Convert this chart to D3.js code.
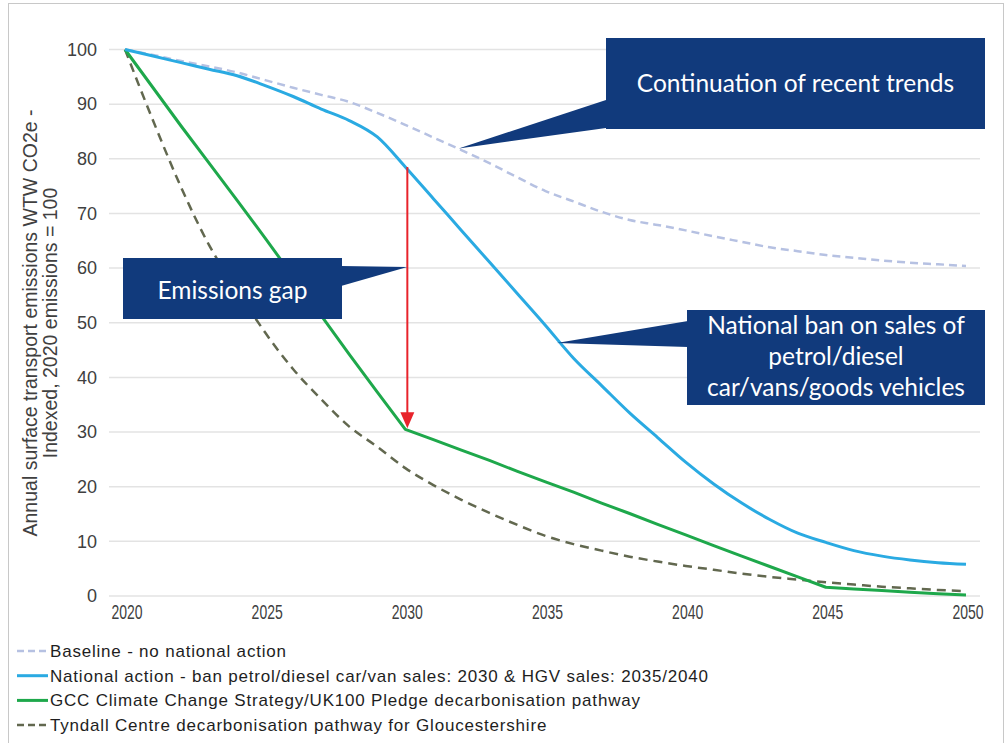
<!DOCTYPE html>
<html>
<head>
    <title>Surface transport emissions pathways</title>
    <script src="https://d3js.org/d3.v7.min.js"></script>
    <style>
        body { margin: 0; background: #fff; }
        .tick-y { font-family: Arial, "Liberation Sans", sans-serif; font-size: 18px; fill: #404040; }
        .tick-x { font-family: Arial, "Liberation Sans", sans-serif; font-size: 20px; fill: #404040; }
        .axis-title { font-family: Arial, "Liberation Sans", sans-serif; font-size: 19.5px; fill: #404040; }
        .legend-text { font-family: Arial, "Liberation Sans", sans-serif; font-size: 17px; fill: #1e1e1e; letter-spacing: 0.8px; }
        .callout-text { font-family: Lato, "Open Sans", sans-serif; font-size: 24.5px; fill: #fff; }
    </style>
</head>
<body>
<script>
    const years = [2020, 2021, 2022, 2023, 2024, 2025, 2026, 2027, 2028, 2029, 2030,
                   2031, 2032, 2033, 2034, 2035, 2036, 2037, 2038, 2039, 2040,
                   2041, 2042, 2043, 2044, 2045, 2046, 2047, 2048, 2049, 2050];

    // Baseline - no national action
    const baseline = [100, 99.0, 97.9, 96.9, 95.8, 94.4, 93.0, 91.7, 90.4, 88.4, 86.2,
                      83.9, 81.6, 79.2, 76.6, 74.1, 72.2, 70.3, 68.8, 67.9, 66.9,
                      65.8, 64.8, 63.8, 63.1, 62.4, 61.9, 61.4, 61.0, 60.7, 60.4];
    // National action - ban petrol/diesel sales
    const national = [100, 98.8, 97.6, 96.4, 95.2, 93.4, 91.4, 89.1, 87.0, 84.0, 78.5,
                      72.7, 66.9, 61.1, 55.3, 49.5, 43.5, 38.5, 33.5, 29.0, 24.5,
                      20.5, 17.0, 14.0, 11.5, 9.8, 8.3, 7.3, 6.6, 6.1, 5.8];
    // GCC Climate Change Strategy / UK100 pledge
    const gcc = [100, 93.0, 86.0, 79.2, 72.4, 65.5, 58.4, 51.3, 44.2, 37.3, 30.5,
                 28.6, 26.7, 24.8, 22.8, 20.9, 19.0, 17.0, 15.1, 13.1, 11.2,
                 9.2, 7.3, 5.4, 3.5, 1.6, 1.3, 1.0, 0.7, 0.4, 0.2];
    // Tyndall Centre pathway
    const tyndall = [100, 87.0, 74.8, 64.2, 56.0, 48.2, 41.5, 36.0, 31.0, 27.3, 23.4,
                     20.3, 17.6, 15.2, 13.0, 11.0, 9.5, 8.3, 7.2, 6.3, 5.5,
                     4.8, 4.1, 3.5, 3.0, 2.5, 2.1, 1.7, 1.4, 1.1, 0.9];

    const yTicks = [0, 10, 20, 30, 40, 50, 60, 70, 80, 90, 100];
    const xTicks = [2020, 2025, 2030, 2035, 2040, 2045, 2050];

    const legendLabels = [
        "Baseline - no national action",
        "National action - ban petrol/diesel car/van sales: 2030 & HGV sales: 2035/2040",
        "GCC Climate Change Strategy/UK100 Pledge decarbonisation pathway",
        "Tyndall Centre decarbonisation pathway for Gloucestershire"
    ];

    const calloutText = {
        trends: ["Continuation of recent trends"],
        gap: ["Emissions gap"],
        ban: ["National ban on sales of", "petrol/diesel", "car/vans/goods vehicles"]
    };

    const width = 1007, height = 743;
    const navy = "#113a7c";

    const svg = d3.select("body").append("svg")
        .attr("width", width)
        .attr("height", height);

    // frame
    svg.append("rect")
        .attr("x", 8.5).attr("y", 3.5)
        .attr("width", 995).attr("height", 760)
        .attr("fill", "none")
        .attr("stroke", "#c8c8c8");

    const x = d3.scaleLinear().domain([2020, 2050]).range([125, 966]);
    const y = d3.scaleLinear().domain([0, 100]).range([596, 49.5]);

    // gridlines
    svg.append("g").selectAll("line")
        .data(yTicks)
        .enter().append("line")
        .attr("x1", 109).attr("x2", 980)
        .attr("y1", d => y(d)).attr("y2", d => y(d))
        .attr("stroke", "#e3e3e3")
        .attr("stroke-width", 1.5);

    // y tick labels
    svg.append("g").selectAll("text")
        .data(yTicks)
        .enter().append("text")
        .attr("class", "tick-y")
        .attr("x", 97)
        .attr("y", d => y(d))
        .attr("dy", "0.35em")
        .attr("text-anchor", "end")
        .text(d => d);

    // x tick labels (condensed, like the original)
    svg.append("g").selectAll("text")
        .data(xTicks)
        .enter().append("text")
        .attr("class", "tick-x")
        .attr("transform", d => `translate(${x(d) + 2},619) scale(0.7,1)`)
        .attr("text-anchor", "middle")
        .text(d => d);

    // y axis title (two lines)
    const title = svg.append("text")
        .attr("class", "axis-title")
        .attr("transform", "translate(37,323) rotate(-90)")
        .attr("text-anchor", "middle");
    title.append("tspan").attr("x", 0).attr("y", 0)
        .text("Annual surface transport emissions WTW CO2e -");
    title.append("tspan").attr("x", 0).attr("y", 20)
        .text("Indexed, 2020 emissions = 100");

    const smooth = d3.line()
        .x((d, i) => x(years[i]))
        .y(d => y(d))
        .curve(d3.curveMonotoneX);
    const straight = d3.line()
        .x((d, i) => x(years[i]))
        .y(d => y(d));

    const series = [
        { values: baseline, color: "#b6c1e2", width: 2.5, dash: "8,5", gen: smooth },
        { values: tyndall, color: "#62684f", width: 2.5, dash: "9,6", gen: smooth },
        { values: gcc, color: "#1ea84b", width: 3, dash: null, gen: straight },
        { values: national, color: "#2aaae2", width: 3, dash: null, gen: smooth }
    ];

    series.forEach(s => {
        svg.append("path")
            .datum(s.values)
            .attr("d", s.gen)
            .attr("fill", "none")
            .attr("stroke", s.color)
            .attr("stroke-width", s.width)
            .attr("stroke-linejoin", "round")
            .attr("stroke-dasharray", s.dash);
    });

    // emissions gap arrow at 2030
    const gapYear = 2030;
    const gi = years.indexOf(gapYear);
    const ax = x(gapYear) + 2;
    svg.append("line")
        .attr("x1", ax).attr("x2", ax)
        .attr("y1", y(national[gi])).attr("y2", y(gcc[gi]) - 14)
        .attr("stroke", "#e8232b")
        .attr("stroke-width", 2);
    svg.append("path")
        .attr("d", `M${ax - 7},${y(gcc[gi]) - 17} L${ax + 7},${y(gcc[gi]) - 17} L${ax},${y(gcc[gi]) - 1} Z`)
        .attr("fill", "#e8232b");

    // callouts
    function callout(box, base, tip, lines, lineGap, firstY) {
        svg.append("path")
            .attr("d", `M${base[0][0]},${base[0][1]} L${tip[0]},${tip[1]} L${base[1][0]},${base[1][1]} Z`)
            .attr("fill", navy);
        svg.append("rect")
            .attr("x", box[0]).attr("y", box[1])
            .attr("width", box[2] - box[0]).attr("height", box[3] - box[1])
            .attr("fill", navy);
        const cx = (box[0] + box[2]) / 2;
        lines.forEach((t, i) => {
            svg.append("text")
                .attr("class", "callout-text")
                .attr("x", cx)
                .attr("y", firstY + i * lineGap)
                .attr("text-anchor", "middle")
                .text(t);
        });
    }

    callout([606, 38, 985, 129], [[606, 100], [606, 128]],
        [x(2031.9), y(81.9)], calloutText.trends, 0, 92);
    callout([123, 258, 342, 319], [[341, 266], [341, 286]],
        [x(2030) + 2, y(60.2)], calloutText.gap, 0, 299);
    callout([687, 310, 985, 405], [[688, 321], [688, 347]],
        [x(2035.4), y(46.3)], calloutText.ban, 31, 334);

    // legend
    const legend = svg.append("g");
    const legendStyles = [series[0], series[3], series[2], series[1]];
    legendLabels.forEach((label, i) => {
        const ly = 651 + i * 24.7;
        const s = legendStyles[i];
        legend.append("line")
            .attr("x1", 17).attr("x2", 48)
            .attr("y1", ly).attr("y2", ly)
            .attr("stroke", s.color)
            .attr("stroke-width", s.width)
            .attr("stroke-dasharray", s.dash ? "7,4" : null);
        legend.append("text")
            .attr("class", "legend-text")
            .attr("x", 50)
            .attr("y", ly)
            .attr("dy", "0.35em")
            .text(label);
    });
</script>
</body>
</html>
